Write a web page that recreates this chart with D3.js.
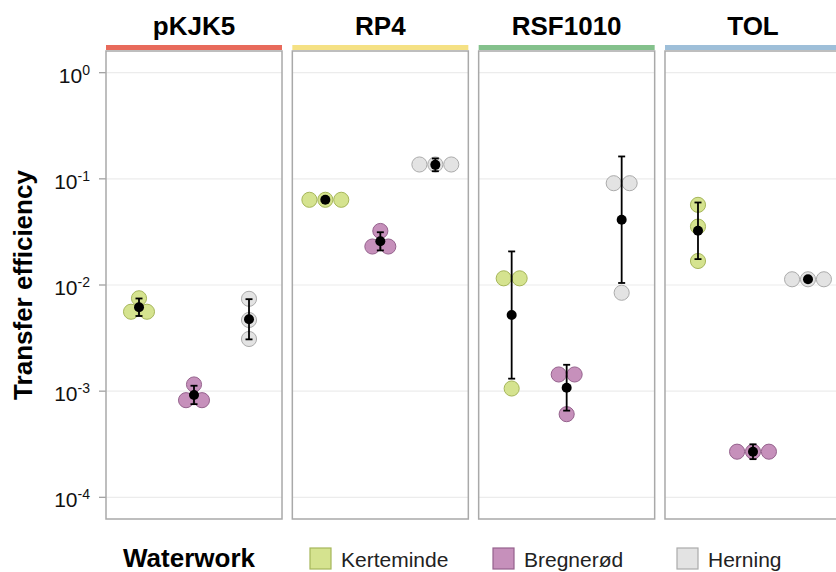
<!DOCTYPE html>
<html>
<head>
<meta charset="utf-8">
<script src="https://cdn.jsdelivr.net/npm/d3@7"></script>
<style>
body { margin: 0; background: #fff; }
svg { display: block; font-family: "Liberation Sans", Arial, sans-serif; }
</style>
</head>
<body>
<svg id="chart" width="836" height="572"></svg>
<script>
var plasmids = ["pKJK5", "RP4", "RSF1010", "TOL"];
var waterworks = ["Kerteminde", "Bregnerød", "Herning"];
var stripColors = ["#e86a5b", "#f5e184", "#84c18c", "#9ebfd9"];
var fillColors = ["#d5e38f", "#c690bb", "#e3e3e3"];
var strokeColors = ["#a6b65a", "#95628d", "#ababab"];
var yTicks = [1, 1e-1, 1e-2, 1e-3, 1e-4];
var yTickExp = ["0", "-1", "-2", "-3", "-4"];

// replicate transfer efficiencies, one row per waterwork
var pKJK5 = [[0.00513, 0.00611, 0.0075], [0.000794, 0.000851, 0.001156], [0.00741, 0.00468, 0.0031]];
var RP4 = [[0.0646, 0.0634, 0.0624], [0.0224, 0.0237, 0.0323], [0.119, 0.1334, 0.1567]];
var RSF1010 = [[0.01148, 0.01164, 0.001059], [0.001413, 0.001459, 0.000607], [0.0904, 0.0916, 0.00845]];
var TOL = [[0.0569, 0.0355, 0.01683], [0.000229, 0.000268, 0.000316], [0.01148, 0.01132, 0.01117]];
var replicates = [pKJK5, RP4, RSF1010, TOL];

var binwidth = 0.15; // log10 units

var svg = d3.select("#chart");

var panelTop = 51, panelBottom = 519;
var xPanel = d3.scaleBand().domain(plasmids).range([106, 841]).paddingInner(0.0554);
var pw = xPanel.bandwidth();
var xIn = d3.scalePoint().domain(waterworks).range([0, pw]).padding(0.6);
var y = d3.scaleLog().domain([1e-4, 1]).range([497.3, 72.7]);
var decade = y(0.1) - y(1);
var dotD = binwidth * decade;

// dotdensity binning like ggplot's geom_dotplot
function dotBins(vals) {
  var lv = vals.map(function(v) { return Math.log10(v); }).sort(d3.ascending);
  var bins = [], end = -Infinity, cur;
  lv.forEach(function(v) {
    if (v >= end) {
      cur = [];
      bins.push(cur);
      end = v + binwidth;
    }
    cur.push(v);
  });
  return bins.map(function(b) { return { c: (d3.min(b) + d3.max(b)) / 2, n: b.length }; });
}

// y axis title
svg.append("text")
  .attr("transform", "translate(32," + ((panelTop + panelBottom) / 2) + ") rotate(-90)")
  .attr("text-anchor", "middle")
  .attr("font-weight", "bold")
  .attr("font-size", "26px")
  .text("Transfer efficiency");

// y axis ticks and labels
var yAxis = svg.append("g");
yTicks.forEach(function(t, i) {
  yAxis.append("line")
    .attr("x1", 99).attr("x2", 106)
    .attr("y1", y(t)).attr("y2", y(t))
    .attr("stroke", "#9a9a9a").attr("stroke-width", 1.2);
  var lab = yAxis.append("text")
    .attr("x", 90).attr("y", y(t) + 10)
    .attr("text-anchor", "end")
    .attr("font-size", "21px")
    .attr("fill", "#111");
  lab.append("tspan").text("10");
  lab.append("tspan").attr("font-size", "14px").attr("dy", -8).text(yTickExp[i]);
});

plasmids.forEach(function(p, pi) {
  var x0 = xPanel(p);
  var g = svg.append("g").attr("transform", "translate(" + x0 + ",0)");

  g.append("rect")
    .attr("x", 0).attr("y", panelTop)
    .attr("width", pw).attr("height", panelBottom - panelTop)
    .attr("fill", "#fff");

  g.selectAll("line.grid").data(yTicks).enter().append("line")
    .attr("class", "grid")
    .attr("x1", 0).attr("x2", pw)
    .attr("y1", function(d) { return y(d); })
    .attr("y2", function(d) { return y(d); })
    .attr("stroke", "#ececec").attr("stroke-width", 1.2);

  g.append("rect")
    .attr("x", 0).attr("y", panelTop)
    .attr("width", pw).attr("height", panelBottom - panelTop)
    .attr("fill", "none")
    .attr("stroke", "#a9a9a9").attr("stroke-width", 1.5);

  // strip
  g.append("rect")
    .attr("x", 0).attr("y", 45)
    .attr("width", pw).attr("height", 5)
    .attr("fill", stripColors[pi]);
  g.append("text")
    .attr("x", pw / 2).attr("y", 35)
    .attr("text-anchor", "middle")
    .attr("font-weight", "bold")
    .attr("font-size", "26px")
    .text(p);

  waterworks.forEach(function(w, wi) {
    var vals = replicates[pi][wi];
    var cx = xIn(w);

    // dots
    dotBins(vals).forEach(function(b) {
      for (var k = 0; k < b.n; k++) {
        g.append("circle")
          .attr("cx", cx + (k - (b.n - 1) / 2) * dotD)
          .attr("cy", y(Math.pow(10, b.c)))
          .attr("r", dotD / 2 - 0.4)
          .attr("fill", fillColors[wi])
          .attr("stroke", strokeColors[wi])
          .attr("stroke-width", 1);
      }
    });

    // mean +/- sd on log scale
    var lv = vals.map(function(v) { return Math.log10(v); });
    var m = d3.mean(lv), sd = d3.deviation(lv);
    var yTop = y(Math.pow(10, m + sd)), yBot = y(Math.pow(10, m - sd));
    g.append("line")
      .attr("x1", cx).attr("x2", cx)
      .attr("y1", yTop).attr("y2", yBot)
      .attr("stroke", "#000").attr("stroke-width", 1.8);
    [yTop, yBot].forEach(function(yy) {
      g.append("line")
        .attr("x1", cx - 3.5).attr("x2", cx + 3.5)
        .attr("y1", yy).attr("y2", yy)
        .attr("stroke", "#000").attr("stroke-width", 1.8);
    });
    g.append("circle")
      .attr("cx", cx).attr("cy", y(Math.pow(10, m)))
      .attr("r", 5)
      .attr("fill", "#000");
  });
});

// legend
var legend = svg.append("g");
legend.append("text")
  .attr("x", 123).attr("y", 567)
  .attr("font-weight", "bold")
  .attr("font-size", "26px")
  .text("Waterwork");
var keyX = [310, 493, 677];
waterworks.forEach(function(w, i) {
  legend.append("rect")
    .attr("x", keyX[i]).attr("y", 548)
    .attr("width", 21).attr("height", 21)
    .attr("fill", fillColors[i])
    .attr("stroke", strokeColors[i]).attr("stroke-width", 1.2);
  legend.append("text")
    .attr("x", keyX[i] + 31).attr("y", 567)
    .attr("font-size", "21px")
    .attr("fill", "#222")
    .text(w);
});
</script>
</body>
</html>
